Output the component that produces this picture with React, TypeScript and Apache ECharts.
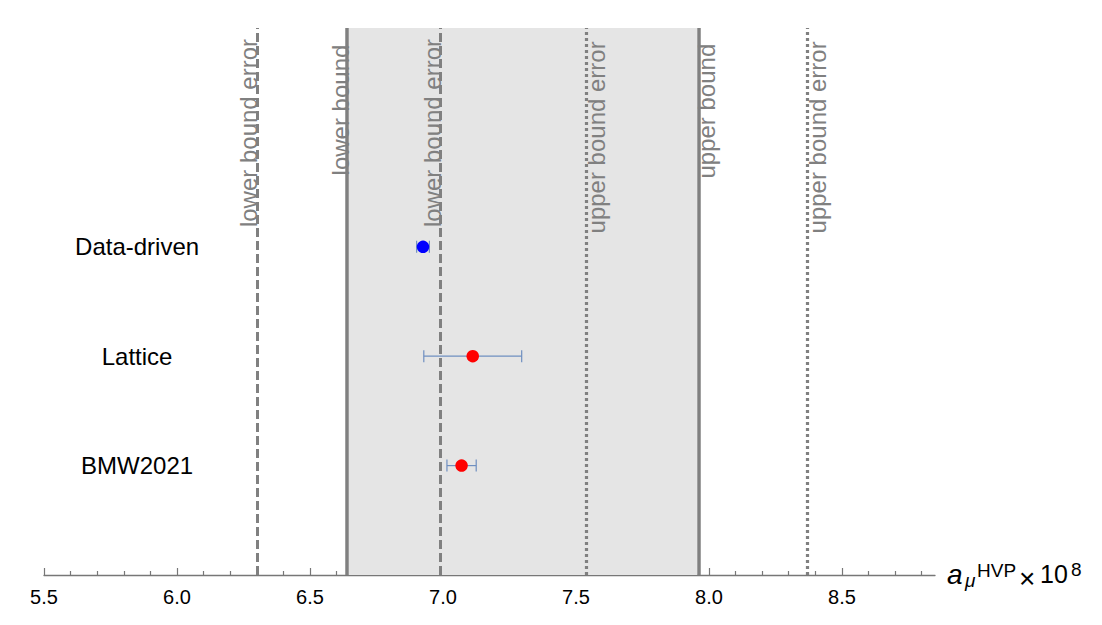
import React, { useEffect, useRef } from 'react';
import * as echarts from 'echarts';

const categories = ['Data-driven', 'Lattice', 'BMW2021'];
const categoryY = [3, 2, 1];
const categoryLabelX = 5.85;
const centralValues = [6.925, 7.112, 7.07];
const errorValues = [0.024, 0.184, 0.055];
const pointColors = ['#0000ff', '#ff0000', '#ff0000'];

const lineNames = ['lower bound error', 'lower bound', 'lower bound error', 'upper bound error', 'upper bound', 'upper bound error'];
const lineValues = [6.3, 6.645, 6.99, 7.54, 7.955, 8.37];
const lineKinds = ['dashed', 'solid', 'dashed', 'dotted', 'solid', 'dotted'];
const lineSides = ['left', 'left', 'left', 'right', 'right', 'right'];
const lineLabelY = [4.04, 4.25, 4.04, 4.0, 4.24, 4.0];
const bandRange = [6.645, 7.955];

const majorTicks = [5.5, 6.0, 6.5, 7.0, 7.5, 8.0, 8.5];
const minorTicks = [5.6, 5.7, 5.8, 5.9, 6.1, 6.2, 6.3, 6.4, 6.6, 6.7, 6.8, 6.9, 7.1, 7.2, 7.3, 7.4, 7.6, 7.7, 7.8, 7.9, 8.1, 8.2, 8.3, 8.4, 8.6, 8.7, 8.8];
const xMin = 5.5;
const xMax = 8.85;
const yMin = 0;
const yMax = 5;

const FONT = "'Liberation Sans', Arial, sans-serif";
const GRAY = '#808080';

function lineStyleFor(kind: string) {
  if (kind === 'solid') return { type: 'solid', width: 3.5, color: GRAY };
  if (kind === 'dashed') return { type: [9, 4], width: 3, color: GRAY };
  return { type: [3, 3], width: 3.2, color: GRAY };
}

function nameText(text: string, x: number, y: number, size: number, italic?: boolean) {
  return {
    type: 'text',
    x,
    y,
    silent: true,
    style: {
      text,
      fill: '#000000',
      fontSize: size,
      fontFamily: FONT,
      fontStyle: italic ? 'italic' : 'normal',
      align: 'left',
      verticalAlign: 'middle',
    },
  };
}

export default function App() {
  const ref = useRef<HTMLDivElement>(null);
  useEffect(() => {
    if (!ref.current) return;
    const chart = echarts.init(ref.current, null, { renderer: 'svg' });

    const pointData = centralValues.map((v, i) => ({
      value: [v, categoryY[i]],
      itemStyle: { color: pointColors[i], opacity: 1 },
    }));
    const errorData = centralValues.map((v, i) => [v, categoryY[i], errorValues[i]]);
    const lineLabelData = lineValues.map((v, i) => [v, lineLabelY[i], i]);
    const catLabelData = categories.map((c, i) => [categoryLabelX, categoryY[i], i]);

    const option: any = {
      animation: false,
      backgroundColor: '#ffffff',
      grid: { left: 44, right: 167, top: 28, bottom: 50 },
      graphic: [
        nameText('a', 947, 574.3, 28, true),
        nameText('μ', 965, 580.4, 19, true),
        nameText('HVP', 977, 570.8, 19),
        nameText('×', 1019, 578, 28),
        nameText('10', 1040, 574.3, 25),
        nameText('8', 1071, 569.4, 19),
      ],
      xAxis: [
        {
          type: 'value',
          min: xMin,
          max: xMax,
          position: 'bottom',
          splitLine: { show: false },
          axisLine: { show: true, onZero: false, lineStyle: { color: '#777777', width: 1.3 } },
          axisTick: { show: true, inside: true, length: 7, customValues: majorTicks, lineStyle: { color: '#777777', width: 1.2 } },
          axisLabel: {
            customValues: majorTicks,
            formatter: (v: number) => v.toFixed(1),
            fontSize: 20,
            color: '#000000',
            fontFamily: FONT,
            margin: 12,
          },
        },
        {
          type: 'value',
          min: xMin,
          max: xMax,
          position: 'bottom',
          splitLine: { show: false },
          axisLine: { show: false, onZero: false },
          axisTick: { show: true, inside: true, length: 4, customValues: minorTicks, lineStyle: { color: '#777777', width: 1.2 } },
          axisLabel: { show: false },
        },
      ],
      yAxis: {
        type: 'value',
        min: yMin,
        max: yMax,
        show: false,
        splitLine: { show: false },
      },
      series: [
        {
          type: 'custom',
          name: 'errors',
          z: 3,
          xAxisIndex: 0,
          data: errorData,
          renderItem: (params: any, api: any) => {
            const x = api.value(0);
            const y = api.value(1);
            const e = api.value(2);
            const p1 = api.coord([x - e, y]);
            const p2 = api.coord([x + e, y]);
            const style = { stroke: '#6f8fc0', lineWidth: 1.2 };
            return {
              type: 'group',
              children: [
                { type: 'line', shape: { x1: p1[0], y1: p1[1], x2: p2[0], y2: p2[1] }, style },
                { type: 'line', shape: { x1: p1[0], y1: p1[1] - 6, x2: p1[0], y2: p1[1] + 6 }, style },
                { type: 'line', shape: { x1: p2[0], y1: p2[1] - 6, x2: p2[0], y2: p2[1] + 6 }, style },
              ],
            };
          },
        },
        {
          type: 'scatter',
          name: 'points',
          z: 4,
          symbol: 'circle',
          symbolSize: 12.5,
          data: pointData,
          markArea: {
            silent: true,
            z: 1,
            itemStyle: { color: '#e5e5e5', opacity: 1 },
            data: [[{ xAxis: bandRange[0] }, { xAxis: bandRange[1] }]],
          },
          markLine: {
            silent: true,
            z: 5,
            symbol: ['none', 'none'],
            label: { show: false },
            data: lineValues.map((v, i) => ({ xAxis: v, lineStyle: lineStyleFor(lineKinds[i]) })),
          },
        },
        {
          type: 'custom',
          name: 'lineLabels',
          z: 10,
          data: lineLabelData,
          renderItem: (params: any, api: any) => {
            const i = params.dataIndex;
            const p = api.coord([api.value(0), api.value(1)]);
            const dx = lineSides[i] === 'left' ? -8 : 10;
            return {
              type: 'text',
              x: p[0] + dx,
              y: p[1],
              rotation: Math.PI / 2,
              style: {
                text: lineNames[i],
                fill: GRAY,
                fontSize: 24,
                fontFamily: FONT,
                align: 'center',
                verticalAlign: 'middle',
              },
            };
          },
        },
        {
          type: 'custom',
          name: 'categoryLabels',
          z: 10,
          data: catLabelData,
          renderItem: (params: any, api: any) => {
            const i = params.dataIndex;
            const p = api.coord([api.value(0), api.value(1)]);
            return {
              type: 'text',
              x: p[0],
              y: p[1],
              style: {
                text: categories[i],
                fill: '#000000',
                fontSize: 24,
                fontFamily: FONT,
                align: 'center',
                verticalAlign: 'middle',
              },
            };
          },
        },
      ],
    };
    chart.setOption(option);
    return () => chart.dispose();
  }, []);
  return (
    <div
      ref={ref}
      style={{ position: 'fixed', left: 0, top: 0, width: 1102, height: 625, background: '#fff' }}
    />
  );
}
